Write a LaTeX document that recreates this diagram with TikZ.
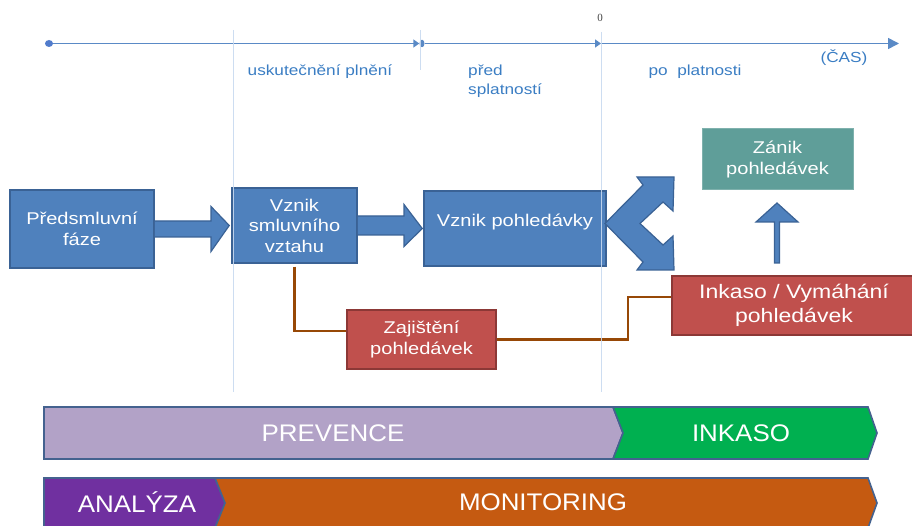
\documentclass[tikz,border=0pt]{standalone}
\usepackage{fontspec}
\setmainfont{Liberation Sans}[FakeStretch=1.18]
\newfontfamily\bandfont{Liberation Sans}[FakeStretch=1.08]
\newfontfamily\zerofont{Liberation Serif}
\usetikzlibrary{arrows.meta,calc,shapes.geometric}
\definecolor{bluefill}{HTML}{4F81BD}
\definecolor{blueline}{HTML}{3A6295}
\definecolor{redfill}{HTML}{C0504D}
\definecolor{redline}{HTML}{8C3836}
\definecolor{tealfill}{HTML}{5F9E99}
\definecolor{brownline}{HTML}{974806}
\definecolor{guide}{HTML}{C8D9EF}
\definecolor{tlcol}{HTML}{5A8AC6}
\definecolor{tltext}{HTML}{3A7DC3}
\definecolor{prevfill}{HTML}{B2A2C7}
\definecolor{inkfill}{HTML}{00B050}
\definecolor{anafill}{HTML}{7030A0}
\definecolor{monfill}{HTML}{C55A11}
\definecolor{bandline}{HTML}{44628F}
\begin{document}
\begin{tikzpicture}[x=1pt,y=-1pt,
  box/.style={draw=blueline, fill=bluefill, line width=1.5pt, text=white, align=center, inner sep=0pt,
    font=\fontsize{17}{20.5}\selectfont},
  redbox/.style={box, draw=redline, fill=redfill},
  blockarrow/.style={draw=blueline, fill=bluefill, line width=1.2pt, line join=miter},
  tl/.style={draw=tlcol, line width=1.6pt},
  tltxt/.style={text=tltext, font=\fontsize{14.6}{19}\selectfont, inner sep=0pt},
  guideline/.style={draw=guide, line width=1pt, opacity=0.9},
  conn/.style={draw=brownline, line width=2.6pt},
  band/.style={draw=bandline, line width=1.6pt, line join=miter},
  bandtxt/.style={text=white, font=\bandfont\fontsize{24}{28}\selectfont, inner sep=0pt}]
\useasboundingbox (0,0) rectangle (912,526);

% ---------- timeline ----------
\node[ellipse, fill=tlcol!90!blue, inner sep=0pt, minimum width=8pt, minimum height=7pt] (t0) at (49,43.5) {};
\node[ellipse, fill=tlcol, inner sep=0pt, minimum width=5pt, minimum height=7.5pt] (t1) at (422,43.5) {};
\coordinate (t2) at (601,43.5);
\coordinate (t3) at (899,43.5);
\draw[tl, -{Triangle[length=6pt,width=8pt]}] (t0) -- (t1.west);
\draw[tl, -{Triangle[length=6pt,width=8pt]}] (t1) -- (t2);
\draw[tl, -{Triangle[length=11pt,width=11pt]}] (t2) -- (t3);

\node[font=\zerofont\fontsize{11}{13}\selectfont, text=black!75, inner sep=0pt] (zero) at (600,18) {0};
\node[tltxt] (lab1) at (320,72) {uskutečnění plnění};
\node[tltxt, anchor=west, align=left] (lab2) at (468,81.5) {před\\splatností};
\node[tltxt] (lab3) at (695,72) {po\ \ platnosti};
\node[tltxt] (cas) at (844,58) {(ČAS)};

% ---------- boxes ----------
\node[box, minimum width=144pt, minimum height=78pt] (pf) at (82,229) {Předsmluvní\\fáze};
\node[box, minimum width=125pt, minimum height=75pt] (vs) at (294.5,225.5) {Vznik\\smluvního\\vztahu};
\node[box, minimum width=182pt, minimum height=75pt, text height=13pt, text depth=16pt] (vp) at (515,228.5) {Vznik pohledávky};
\node[box, draw=tealfill!80!white, line width=1pt, fill=tealfill, minimum width=151pt, minimum height=61pt] (zan) at (777.5,159.5) {Zánik\\pohledávek};
\node[redbox, minimum width=149pt, minimum height=59pt] (zaj) at (421.5,339.5) {Zajištění\\pohledávek};
\node[redbox, minimum width=244pt, minimum height=59pt, font=\fontsize{19.5}{24}\selectfont] (ink) at (794,305.5) {Inkaso / Vymáhání\\pohledávek};

% ---------- block arrows ----------
% pf -> vs
\draw[blockarrow] ($(pf.east)+(0,-8)$) -- (211,221) -- (211,206.5) -- ($(vs.west)+(-2,0)$ |- pf.east)
  -- (211,251.5) -- (211,237) -- ($(pf.east)+(0,8)$);
% vs -> vp
\draw[blockarrow] ($(vs.east)+(0,-9.5)$) -- (404,216) -- (404,204.5) -- ($(vp.west)+(-1,0)$ |- vs.east)
  -- (404,246.5) -- (404,235) -- ($(vs.east)+(0,9.5)$);
% double arrow (from vp)
\draw[blockarrow] (605,223.5) -- (643,185) -- (637,177) -- (674,177) -- (673,211) -- (663,202)
  -- (640,223.5) -- (663,245) -- (673,236) -- (674,270) -- (637,270) -- (643,262) -- cycle;
% up arrow ink -> zan
\draw[blockarrow] (774.5,263) -- (774.5,222) -- (756,222) -- (777,203) -- (798,222) -- (779.5,222) -- (779.5,263) -- cycle;

% ---------- connectors ----------
\coordinate (zajin) at ($(zaj.west)+(0,-8.5)$);
\coordinate (inkin) at ($(ink.west)+(0,-8.5)$);
\coordinate (bend) at (628,0);
\draw[conn] ($(vs.south)+(0,3)$) |- (zajin);
\draw[conn] (zaj.east) -| (bend |- zaj.east) |- (inkin);

% ---------- guide lines ----------
\coordinate (g1a) at (233,30); \coordinate (g1b) at (233,392);
\coordinate (g2a) at (420,30); \coordinate (g2b) at (420,70);
\coordinate (g3a) at (601,32); \coordinate (g3b) at (601,392);
\draw[guideline] (g1a) -- (g1b);
\draw[guideline] (g2a) -- (g2b);
\draw[guideline] (g3a) -- (g3b);

% ---------- bands ----------
\draw[band, fill=prevfill] (44,407) -- (613,407) -- (623,433) -- (613,459) -- (44,459) -- cycle;
\draw[band, fill=inkfill] (613,407) -- (868,407) -- (877,433) -- (868,459) -- (613,459) -- (623,433) -- cycle;
\draw[band, fill=anafill] (44,478) -- (215,478) -- (225,503) -- (215,528) -- (44,528) -- cycle;
\draw[band, fill=monfill] (215,478) -- (868,478) -- (877,503) -- (868,528) -- (215,528) -- (225,503) -- cycle;
\node[bandtxt] (prev) at (333,433) {PREVENCE};
\node[bandtxt] (inks) at (741,433) {INKASO};
\node[bandtxt] (ana) at (137,502) {ANALÝZA};
\node[bandtxt] (mon) at (543,502) {MONITORING};
\end{tikzpicture}
\end{document}
